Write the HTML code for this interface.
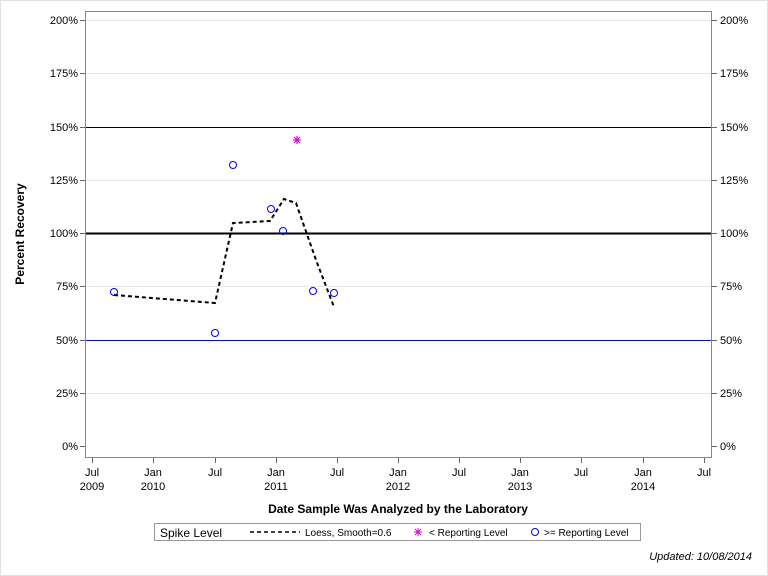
<!DOCTYPE html>
<html><head><meta charset="utf-8"><style>
body{margin:0;background:#fff;}
svg{display:block;font-family:"Liberation Sans",Arial,sans-serif;}
</style></head><body>
<svg width="768" height="576" viewBox="0 0 768 576" xmlns="http://www.w3.org/2000/svg">
<rect x="0" y="0" width="768" height="576" fill="#fff"/>
<rect x="0.5" y="0.5" width="767" height="575" fill="none" stroke="#e0e0e0"/>
<!-- gridlines -->
<g stroke="#e6e6e6" stroke-width="1">
<line x1="86" x2="711" y1="393.5" y2="393.5"/>
<line x1="86" x2="711" y1="286.5" y2="286.5"/>
<line x1="86" x2="711" y1="180.5" y2="180.5"/>
<line x1="86" x2="711" y1="73.5" y2="73.5"/>
<line x1="86" x2="711" y1="20.5" y2="20.5"/>
</g>
<line x1="86" x2="711" y1="127.5" y2="127.5" stroke="#000" stroke-width="1"/>
<line x1="86" x2="711" y1="233.5" y2="233.5" stroke="#000" stroke-width="2"/>
<line x1="86" x2="711" y1="340.5" y2="340.5" stroke="#0000ff" stroke-width="1"/>
<rect x="85.5" y="11.5" width="626" height="446" fill="none" stroke="#888"/>
<!-- y ticks -->
<g stroke="#666">
<line x1="80" x2="85" y1="446.5" y2="446.5"/><line x1="80" x2="85" y1="393.5" y2="393.5"/>
<line x1="80" x2="85" y1="340.5" y2="340.5"/><line x1="80" x2="85" y1="286.5" y2="286.5"/>
<line x1="80" x2="85" y1="233.5" y2="233.5"/><line x1="80" x2="85" y1="180.5" y2="180.5"/>
<line x1="80" x2="85" y1="127.5" y2="127.5"/><line x1="80" x2="85" y1="73.5" y2="73.5"/>
<line x1="80" x2="85" y1="20.5" y2="20.5"/>
<line x1="712" x2="717" y1="446.5" y2="446.5"/><line x1="712" x2="717" y1="393.5" y2="393.5"/>
<line x1="712" x2="717" y1="340.5" y2="340.5"/><line x1="712" x2="717" y1="286.5" y2="286.5"/>
<line x1="712" x2="717" y1="233.5" y2="233.5"/><line x1="712" x2="717" y1="180.5" y2="180.5"/>
<line x1="712" x2="717" y1="127.5" y2="127.5"/><line x1="712" x2="717" y1="73.5" y2="73.5"/>
<line x1="712" x2="717" y1="20.5" y2="20.5"/>
</g>
<g font-size="11" fill="#000" text-anchor="end">
<text x="78" y="450">0%</text><text x="78" y="397">25%</text><text x="78" y="344">50%</text>
<text x="78" y="290">75%</text><text x="78" y="237">100%</text><text x="78" y="184">125%</text>
<text x="78" y="131">150%</text><text x="78" y="77">175%</text><text x="78" y="24">200%</text>
</g>
<g font-size="11" fill="#000">
<text x="720" y="450">0%</text><text x="720" y="397">25%</text><text x="720" y="344">50%</text>
<text x="720" y="290">75%</text><text x="720" y="237">100%</text><text x="720" y="184">125%</text>
<text x="720" y="131">150%</text><text x="720" y="77">175%</text><text x="720" y="24">200%</text>
</g>
<!-- x ticks -->
<g stroke="#666">
<line x1="92.5" x2="92.5" y1="458" y2="463"/><line x1="153.5" x2="153.5" y1="458" y2="463"/>
<line x1="215.5" x2="215.5" y1="458" y2="463"/><line x1="276.5" x2="276.5" y1="458" y2="463"/>
<line x1="337.5" x2="337.5" y1="458" y2="463"/><line x1="398.5" x2="398.5" y1="458" y2="463"/>
<line x1="459.5" x2="459.5" y1="458" y2="463"/><line x1="520.5" x2="520.5" y1="458" y2="463"/>
<line x1="581.5" x2="581.5" y1="458" y2="463"/><line x1="643.5" x2="643.5" y1="458" y2="463"/>
<line x1="704.5" x2="704.5" y1="458" y2="463"/>
</g>
<g font-size="11" fill="#000" text-anchor="middle">
<text x="92" y="476">Jul</text><text x="92" y="490">2009</text>
<text x="153" y="476">Jan</text><text x="153" y="490">2010</text>
<text x="215" y="476">Jul</text>
<text x="276" y="476">Jan</text><text x="276" y="490">2011</text>
<text x="337" y="476">Jul</text>
<text x="398" y="476">Jan</text><text x="398" y="490">2012</text>
<text x="459" y="476">Jul</text>
<text x="520" y="476">Jan</text><text x="520" y="490">2013</text>
<text x="581" y="476">Jul</text>
<text x="643" y="476">Jan</text><text x="643" y="490">2014</text>
<text x="704" y="476">Jul</text>
</g>
<text x="398" y="513" font-size="12" font-weight="bold" text-anchor="middle">Date Sample Was Analyzed by the Laboratory</text>
<text transform="translate(24,234) rotate(-90)" font-size="12" font-weight="bold" text-anchor="middle">Percent Recovery</text>
<!-- loess -->
<polyline points="114,295 215,303 233,223 270,221 284,199 296,203 316,260 334,307" fill="none" stroke="#000" stroke-width="2" stroke-dasharray="4,3"/>
<!-- points -->
<g fill="none" stroke="#0000ff" stroke-width="1">
<circle cx="114" cy="292" r="3.5"/><circle cx="215" cy="333" r="3.5"/>
<circle cx="233" cy="165" r="3.5"/><circle cx="271" cy="209" r="3.5"/>
<circle cx="283" cy="231" r="3.5"/><circle cx="313" cy="291" r="3.5"/>
<circle cx="334" cy="293" r="3.5"/>
</g>
<g stroke="#e000e0" stroke-width="1.2">
<line x1="297" x2="297" y1="136" y2="144"/><line x1="293" x2="301" y1="140" y2="140"/>
<line x1="294" x2="300" y1="137" y2="143"/><line x1="294" x2="300" y1="143" y2="137"/>
</g>
<!-- legend -->
<rect x="154.5" y="523.5" width="486" height="17" fill="#fff" stroke="#999"/>
<text x="160" y="537" font-size="12">Spike Level</text>
<line x1="250" x2="300" y1="532" y2="532" stroke="#000" stroke-width="1.5" stroke-dasharray="4,3"/>
<text x="305" y="536" font-size="10">Loess, Smooth=0.6</text>
<g stroke="#e000e0" stroke-width="1">
<line x1="418" x2="418" y1="528" y2="536"/><line x1="414" x2="422" y1="532" y2="532"/>
<line x1="415" x2="421" y1="529" y2="535"/><line x1="415" x2="421" y1="535" y2="529"/>
</g>
<text x="429" y="536" font-size="10">&lt; Reporting Level</text>
<circle cx="535" cy="532" r="3.5" fill="none" stroke="#0000ff"/>
<text x="544" y="536" font-size="10">&gt;= Reporting Level</text>
<text x="752" y="560" font-size="11" font-style="italic" text-anchor="end">Updated: 10/08/2014</text>
</svg>
</body></html>
